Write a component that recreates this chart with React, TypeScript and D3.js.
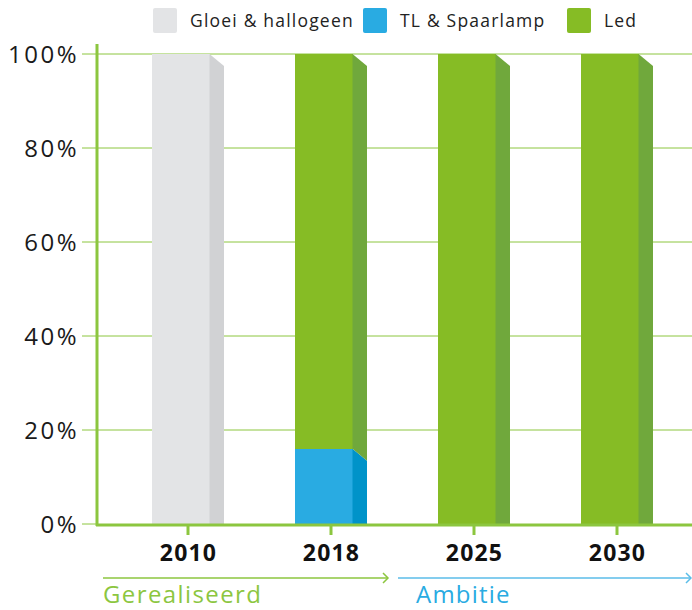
import React from "react";
import * as d3 from "d3";

const years = ["2010", "2018", "2025", "2030"];
const seriesNames = ["Gloei & hallogeen", "TL & Spaarlamp", "Led"];
const gloei = [100, 0, 0, 0];
const tl = [0, 16, 0, 0];
const led = [0, 84, 100, 100];
const yTicks = [0, 20, 40, 60, 80, 100];

const frontColors = ["#e3e4e6", "#29abe2", "#86bc25"];
const sideColors = ["#d1d2d4", "#0093c9", "#70a83c"];
const lineGreen = "#8cc63f";
const lineBlue = "#5bbde8";

const W = 692;
const H = 610;

export default function App() {
  const x = d3.scaleBand<string>().domain(years).range([116.5, 688.5]).paddingInner(0.5).paddingOuter(0.25);
  const y = d3.scaleLinear().domain([0, 100]).range([524, 54]);
  const depth = 14;
  const slant = 12;
  const bw = x.bandwidth();
  const frontW = Math.round(bw - depth);

  const rows = years.map((yr, i) => ({ year: yr, v0: gloei[i], v1: tl[i], v2: led[i] }));
  const stack = d3.stack<any>().keys(["v0", "v1", "v2"])(rows);
  const base = y(0);
  const font = "'Open Sans', sans-serif";

  return (
    <svg width={W} height={H} style={{ position: "absolute", left: 0, top: 0, background: "#fff" }}>
      {/* grid */}
      {yTicks.map((t) => (
        <g key={t}>
          {t > 0 && <line x1={82} x2={W} y1={y(t)} y2={y(t)} stroke={lineGreen} strokeWidth={1} />}
          {t === 0 && <line x1={82} x2={97} y1={y(t)} y2={y(t)} stroke={lineGreen} strokeWidth={1} />}
          <text x={79} y={y(t)} dy="0.36em" textAnchor="end" fontFamily={font} fontSize={24} letterSpacing={2.5} fill="#1a1a1a">
            {t}%
          </text>
        </g>
      ))}
      {/* bars */}
      {stack.map((s, si) =>
        s.map((d, i) => {
          if (d[1] - d[0] <= 0) return null;
          const x0 = Math.round(x(years[i])!);
          const yt = y(d[1]);
          const yb = y(d[0]);
          const xr = x0 + frontW;
          const sidePts = [
            [xr - 0.5, yt],
            [xr + depth, yt + slant],
            [xr + depth, Math.min(yb + slant, base)],
            [xr - 0.5, yb],
          ];
          return (
            <g key={`${si}-${i}`}>
              <rect x={x0} y={yt} width={frontW} height={yb - yt} fill={frontColors[si]} shapeRendering="crispEdges" />
              <polygon points={sidePts.map((p) => p.join(",")).join(" ")} fill={sideColors[si]} />
            </g>
          );
        })
      )}
      {/* axes */}
      <line x1={97} x2={97} y1={44} y2={526} stroke={lineGreen} strokeWidth={3} />
      <line x1={96} x2={W} y1={525} y2={525} stroke={lineGreen} strokeWidth={3} />
      {years.map((yr) => {
        const cx = x(yr)! + bw / 2;
        return (
          <g key={yr}>
            <line x1={cx} x2={cx} y1={525} y2={535} stroke={lineGreen} strokeWidth={3} />
            <text x={cx + 0.5} y={561} textAnchor="middle" fontFamily={font} fontWeight={700} fontSize={23} letterSpacing={1.2} fill="#111">
              {yr}
            </text>
          </g>
        );
      })}
      {/* bottom arrows */}
      <line x1={103} x2={388} y1={578} y2={578} stroke={lineGreen} strokeWidth={1.5} />
      <polyline points="383,573 388,578 383,583" fill="none" stroke={lineGreen} strokeWidth={1.5} />
      <text x={103} y={603} fontFamily={font} fontSize={24} letterSpacing={1.4} fill={lineGreen}>Gerealiseerd</text>
      <line x1={398} x2={691} y1={578} y2={578} stroke={lineBlue} strokeWidth={1.5} />
      <polyline points="686,573 691,578 686,583" fill="none" stroke={lineBlue} strokeWidth={1.5} />
      <text x={416} y={603} fontFamily={font} fontSize={24} letterSpacing={1.2} fill="#29abe2">Ambitie</text>
      {/* legend */}
      {seriesNames.map((n, i) => {
        const lx = [153, 363, 567][i];
        return (
          <g key={n}>
            <rect x={lx} y={8} width={24} height={25} rx={2} fill={frontColors[i]} />
            <text x={lx + 37} y={27} fontFamily={font} fontSize={17.5} letterSpacing={1.2} fill="#222">{n}</text>
          </g>
        );
      })}
    </svg>
  );
}
